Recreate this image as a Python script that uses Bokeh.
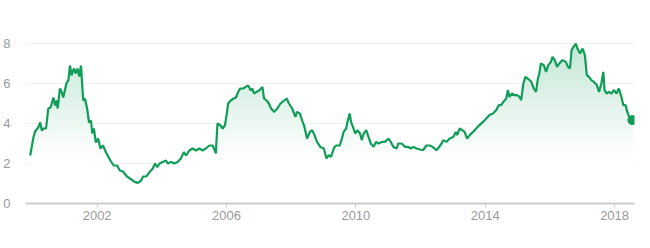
import numpy as np
from bokeh.plotting import figure
from bokeh.models import FixedTicker, Range1d
from bokeh.embed import file_html
from bokeh.resources import INLINE

years = [1999.93, 2000.03, 2000.08, 2000.18, 2000.24, 2000.29, 2000.34, 2000.42, 2000.49, 2000.56,
         2000.65, 2000.70, 2000.75, 2000.78, 2000.85, 2000.90, 2000.95, 2001.06, 2001.11, 2001.16,
         2001.21, 2001.28, 2001.34, 2001.39, 2001.45, 2001.50, 2001.57, 2001.62, 2001.69, 2001.75,
         2001.81, 2001.85, 2001.90, 2001.96, 2002.03, 2002.10, 2002.18, 2002.29, 2002.41, 2002.51,
         2002.62, 2002.70, 2002.80, 2002.92, 2003.06, 2003.16, 2003.26, 2003.36, 2003.42, 2003.52,
         2003.62, 2003.72, 2003.79, 2003.86, 2003.93, 2004.03, 2004.13, 2004.18, 2004.29, 2004.39,
         2004.49, 2004.59, 2004.68, 2004.75, 2004.85, 2004.95, 2005.06, 2005.16, 2005.26, 2005.36,
         2005.47, 2005.57, 2005.64, 2005.67, 2005.72, 2005.81, 2005.88, 2005.95, 2006.01, 2006.05,
         2006.13, 2006.22, 2006.29, 2006.34, 2006.42, 2006.52, 2006.59, 2006.67, 2006.75, 2006.80,
         2006.85, 2006.93, 2007.01, 2007.11, 2007.16, 2007.24, 2007.31, 2007.38, 2007.47, 2007.57,
         2007.67, 2007.78, 2007.86, 2007.93, 2008.03, 2008.13, 2008.18, 2008.27, 2008.34, 2008.41,
         2008.49, 2008.58, 2008.65, 2008.72, 2008.80, 2008.90, 2009.01, 2009.09, 2009.16, 2009.23,
         2009.33, 2009.39, 2009.50, 2009.57, 2009.62, 2009.70, 2009.74, 2009.81, 2009.85, 2009.91,
         2009.98, 2010.05, 2010.13, 2010.18, 2010.24, 2010.32, 2010.39, 2010.46, 2010.55, 2010.62,
         2010.70, 2010.80, 2010.90, 2011.01, 2011.08, 2011.16, 2011.26, 2011.31, 2011.42, 2011.52,
         2011.62, 2011.69, 2011.78, 2011.88, 2011.98, 2012.08, 2012.18, 2012.29, 2012.37, 2012.49,
         2012.54, 2012.65, 2012.70, 2012.80, 2012.90, 2013.01, 2013.09, 2013.13, 2013.21, 2013.29,
         2013.36, 2013.44, 2013.52, 2013.62, 2013.72, 2013.82, 2013.93, 2014.03, 2014.13, 2014.24,
         2014.34, 2014.42, 2014.49, 2014.56, 2014.65, 2014.70, 2014.75, 2014.83, 2014.90, 2014.98,
         2015.06, 2015.11, 2015.18, 2015.24, 2015.31, 2015.42, 2015.50, 2015.57, 2015.62, 2015.67,
         2015.72, 2015.81, 2015.88, 2015.95, 2016.03, 2016.08, 2016.15, 2016.22, 2016.29, 2016.39,
         2016.49, 2016.56, 2016.62, 2016.67, 2016.73, 2016.80, 2016.85, 2016.93, 2017.01, 2017.08,
         2017.14, 2017.21, 2017.28, 2017.36, 2017.45, 2017.52, 2017.59, 2017.65, 2017.69, 2017.75,
         2017.82, 2017.90, 2017.98, 2018.06, 2018.13, 2018.21, 2018.27, 2018.34, 2018.39, 2018.47,
         2018.55]

values = [2.4, 3.3, 3.6, 3.8, 4.05, 3.65, 3.75, 3.75, 4.75, 4.8,
          5.3, 4.9, 5.15, 4.75, 5.75, 5.6, 5.3, 6.05, 6.15, 6.9,
          6.4, 6.75, 6.5, 6.75, 6.35, 6.9, 5.15, 5.25, 4.75, 4.05,
          4.15, 3.5, 3.75, 3.05, 3.25, 2.75, 2.9, 2.5, 2.15, 1.9,
          1.9, 1.65, 1.6, 1.35, 1.2, 1.08, 1.03, 1.15, 1.35, 1.35,
          1.57, 1.75, 2.0, 1.82, 2.0, 2.08, 2.15, 2.0, 2.08, 2.0,
          2.08, 2.25, 2.57, 2.4, 2.65, 2.75, 2.65, 2.75, 2.65, 2.75,
          2.9, 2.9, 2.65, 2.5, 4.0, 3.9, 3.75, 3.9, 4.5, 5.0,
          5.15, 5.25, 5.3, 5.5, 5.75, 5.75, 5.83, 5.9, 5.65, 5.75,
          5.5, 5.58, 5.65, 5.83, 5.25, 5.15, 5.0, 4.75, 4.58, 4.75,
          5.0, 5.15, 5.25, 5.0, 4.75, 4.33, 4.58, 4.5, 4.15, 3.83,
          3.25, 3.58, 3.67, 3.42, 3.08, 2.83, 2.75, 2.25, 2.42, 2.33,
          2.8, 2.9, 2.9, 3.25, 3.58, 3.75, 4.08, 4.5, 4.08, 3.83,
          3.5, 3.67, 3.5, 3.17, 3.5, 3.67, 3.33, 3.0, 2.83, 3.08,
          3.0, 3.08, 3.08, 3.25, 3.08, 2.83, 2.75, 3.0, 3.0, 2.83,
          2.83, 2.75, 2.83, 2.75, 2.7, 2.67, 2.9, 2.9, 2.83, 2.67,
          2.75, 3.0, 3.17, 3.08, 3.25, 3.33, 3.58, 3.42, 3.75, 3.67,
          3.58, 3.25, 3.42, 3.58, 3.75, 3.92, 4.08, 4.25, 4.42, 4.5,
          4.67, 4.92, 4.92, 5.08, 5.25, 5.67, 5.33, 5.5, 5.42, 5.42,
          5.33, 5.17, 6.0, 6.33, 6.25, 6.1, 5.75, 5.58, 6.17, 6.5,
          7.0, 6.92, 6.58, 6.92, 7.08, 7.33, 7.17, 6.83, 7.0, 7.17,
          7.08, 6.83, 6.75, 7.67, 7.83, 8.0, 7.75, 7.5, 7.75, 7.42,
          6.42, 6.33, 6.17, 6.08, 5.92, 5.58, 6.0, 6.58, 5.67, 5.5,
          5.58, 5.5, 5.67, 5.5, 5.75, 5.33, 4.92, 4.92, 4.58, 4.25,
          4.17]

y_ticks = [0, 2, 4, 6, 8]
x_ticks = [2002, 2006, 2010, 2014, 2018]

GREEN = "#0f9d58"
GREEN_RGB = (15, 157, 88)
LABEL = "#9a9a9a"

p = figure(width=650, height=248, output_backend="svg", toolbar_location=None,
           x_range=Range1d(1999.785, 2018.615), y_range=Range1d(0, 8.5),
           min_border_left=22, min_border_right=16, min_border_top=33, min_border_bottom=45)
p.outline_line_color = None
p.background_fill_color = "white"
p.border_fill_color = "white"

x = np.array(years)
v = np.array(values)


def blend(level):
    t = min(max((level - 2.2) / 5.8, 0.0), 1.0)
    a = 0.25 * t
    r, g, b = (round(255 * (1 - a) + c * a) for c in GREEN_RGB)
    return "#%02x%02x%02x" % (r, g, b)


# vertical gradient fill under the curve: opaque layers, each from its level up to the curve
levels = np.arange(0.0, 8.5, 0.1)
for lv in levels:
    p.varea(x=x, y1=np.full_like(v, lv), y2=np.maximum(v, lv), fill_color=blend(lv))

p.line(x, v, line_color=GREEN, line_width=2.2)
p.scatter([years[-1]], [values[-1]], marker="circle", size=9, fill_color=GREEN, line_color=GREEN)

p.xgrid.grid_line_color = None
p.ygrid.ticker = FixedTicker(ticks=[2, 4, 6, 8])
p.ygrid.grid_line_color = "#f0f0f0"
p.ygrid.grid_line_width = 1

p.xaxis.ticker = FixedTicker(ticks=x_ticks)
p.xaxis.axis_line_color = "#cccccc"
p.xaxis.axis_line_width = 2
p.xaxis.major_tick_line_color = "#cccccc"
p.xaxis.major_tick_out = 4
p.xaxis.major_tick_in = 0
p.xaxis.minor_tick_line_color = None
p.xaxis.major_label_text_color = LABEL
p.xaxis.major_label_text_font = "Liberation Sans"
p.xaxis.major_label_text_font_size = "13px"
p.xaxis.major_label_standoff = 3

p.yaxis.ticker = FixedTicker(ticks=y_ticks)
p.yaxis.axis_line_color = None
p.yaxis.major_tick_line_color = None
p.yaxis.minor_tick_line_color = None
p.yaxis.major_label_text_color = LABEL
p.yaxis.major_label_text_font = "Liberation Sans"
p.yaxis.major_label_text_font_size = "13px"
p.yaxis.major_label_standoff = 9

open("out.html", "w").write(file_html(p, INLINE))
